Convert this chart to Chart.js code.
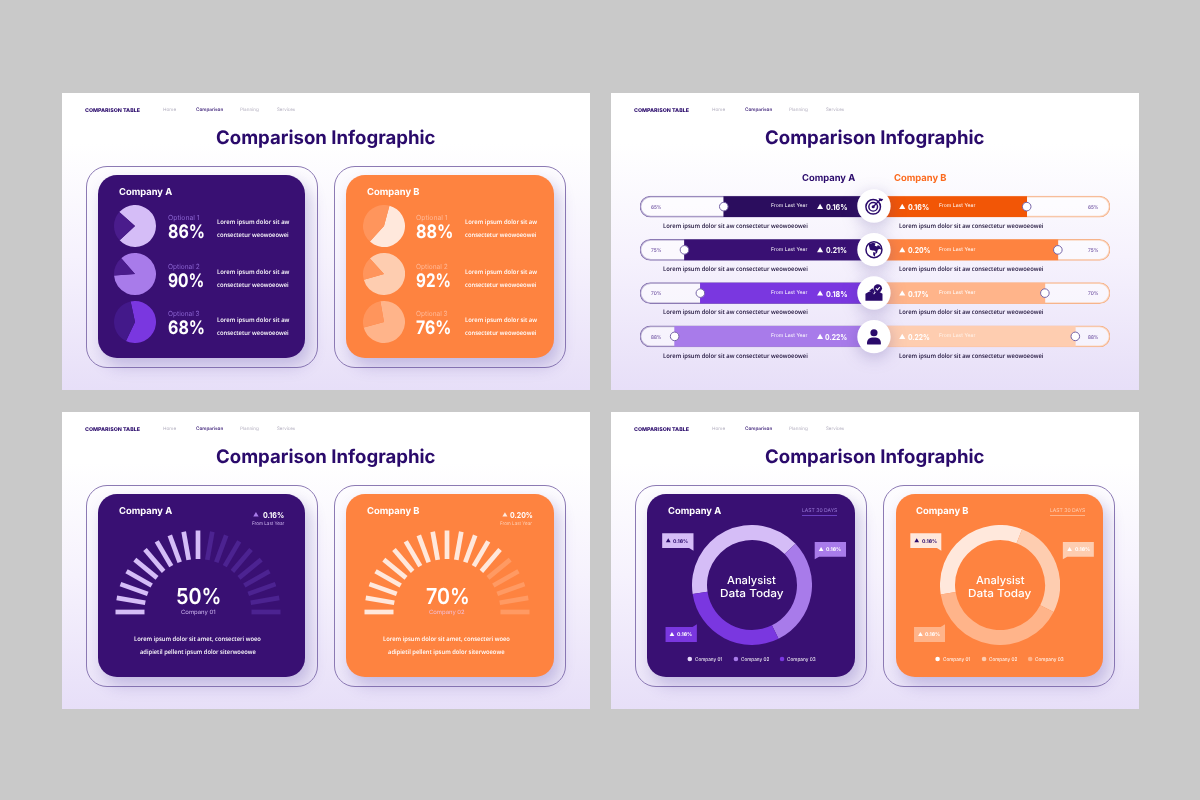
<!DOCTYPE html>
<html><head><meta charset="utf-8">
<script src="https://cdn.jsdelivr.net/npm/chart.js@4"></script>
<style>
html,body{margin:0;padding:0;background:#c9c9c9;width:1200px;height:800px;overflow:hidden}
#page{position:relative;width:1200px;height:800px;overflow:hidden}
.slide{position:absolute;background:linear-gradient(180deg,#fff 0%,#fff 17%,#f6f2fd 55%,#e7dff8 100%)}
.frame{position:absolute;box-sizing:border-box;border:1px solid #8c7ab4;border-radius:21px;background:rgba(255,255,255,.12)}
.card{position:absolute;border-radius:19px;box-shadow:5px 8px 16px rgba(80,60,160,.28)}
.bar{position:absolute}
canvas{position:absolute}
#deco{position:absolute;left:0;top:0}
.t{position:absolute;white-space:nowrap;transform-origin:0 50%;line-height:1;font-family:"Open Sans",sans-serif;text-rendering:geometricPrecision;filter:blur(.2px)}
</style></head><body><div id="page"></div>
<script>
// ---- values ----
const pieLabelsA = ["86%","90%","68%"];
const pieLabelsB = ["88%","92%","76%"];
const pieFilledA = [76.5,85.3,60.4];
const pieFilledB = [57.5,82.2,73.6];
const pieStartA = [-48.5,-41,-12];
const pieStartB = [15,-42,-10];
const barLabels = ["65%","75%","70%","88%"];
const barLengthA = [64.2,81,74.2,85.2];
const barLengthB = [64.7,77.9,72.4,85.3];
const barTrack = [100,100,100,100];
const changeA = ["0.16%","0.21%","0.18%","0.22%"];
const changeB = ["0.16%","0.20%","0.17%","0.22%"];
const gaugeSpokesA = [1,1,1,1,1,1,1,1,1,1,0,0,0,0,0,0,0,0,0];
const gaugeSpokesB = [1,1,1,1,1,1,1,1,1,1,1,1,1,1,0,0,0,0,0];
const donutLabels = ["Company 01","Company 02","Company 03"];
const donutA = [40.3,29.8,29.9];
const donutB = [33.5,26.4,40.1];
const donutStart = [261.4,261];
// ---- layout ----
const S = [[62,93],[611,93],[62,412],[611,412]];
const KX=2.97,KY=3;
const PURPLE="#391073",ORANGE="#fe8340",INK="#2a0a6b";
const PA=["#d5bdf7","#a87bea","#7a37e0"],PB=["#ffe8dc","#fecdb0","#ffb48a"];
const page=document.getElementById('page');
function el(cls,x,y,w,h,bg){const d=document.createElement('div');d.className=cls;d.style.cssText=`left:${x}px;top:${y}px;width:${w}px;height:${h}px;`+(bg?`background:${bg};`:'');page.appendChild(d);return d;}
function box(o,cls,x0,x1,y0,y1,bg){return el(cls,o[0]+x0/KX,o[1]+y0/KY,(x1-x0)/KX,(y1-y0)/KY,bg);}
const texts=[];
function T(o,x0,x1,y,s,size,weight,color,font){texts.push({o,x0,x1,y,s,size,weight,color,font});}
let deco='';
function tri(o,x0,x1,y,color){const a=o[0]+x0/KX,b=o[0]+x1/KX,m=(a+b)/2,c=o[1]+y/KY;const h=(x1-x0)/KX*.42;deco+=`<polygon points="${a},${c+h} ${b},${c+h} ${m},${c-h}" fill="${color}"/>`;}
function poly(o,pts,color){deco+=`<polygon points="${pts.map(p=>(o[0]+p[0]/KX)+','+(o[1]+p[1]/KY)).join(' ')}" fill="${color}"/>`;}
function dot(o,x,y,r,color){deco+=`<circle cx="${o[0]+x/KX}" cy="${o[1]+y/KY}" r="${r}" fill="${color}"/>`;}
function cv(x,y,w,h){const c=document.createElement('canvas');c.width=w;c.height=h;c.style.cssText=`left:${x}px;top:${y}px;width:${w}px;height:${h}px`;page.appendChild(c);return c;}
const base={responsive:false,animation:false,devicePixelRatio:1,plugins:{legend:{display:false},tooltip:{enabled:false}}};
const H='Inter,sans-serif';

S.forEach(o=>{ el('slide',o[0],o[1],528,297); });
function chrome(o){
  T(o,68,231,54,'COMPARISON TABLE',5.2,800,INK,H);
  T(o,300,339,50,'Home',4.6,400,'#b4b0c0',H);
  T(o,399,480,50,'Comparison',4.6,500,INK,H);
  T(o,529,585,50,'Planning',4.6,400,'#b4b0c0',H);
  T(o,640,694,50,'Services',4.6,400,'#b4b0c0',H);
  T(o,456,1108,131,'Comparison Infographic',18.8,700,INK,H);
}
S.forEach(chrome);
function cards(o,dx){
  box(o,'frame',70+dx,759+dx,220,824);
  box(o,'frame',808+dx,1497+dx,220,824);
  box(o,'card',107,723+dx,247,794,PURPLE);
  box(o,'card',844+dx,1460+dx,247,794,ORANGE);
}
cards(S[0],0);cards(S[2],0);cards(S[3],1);
[S[0],S[2],S[3]].forEach((o,i)=>{const d=i==2?1:0;
  T(o,168+d,326+d,297,'Company A',9.6,700,'#fff',H);
  T(o,905+d,1061+d,297,'Company B',9.6,700,'#fff',H);
});

// ---- slide 1: pies ----
const rowsY=[400,543,687];
function pie(o,cx,cy,filled,start,lit,dark){
  const c=cv(o[0]+cx/KX-21,o[1]+cy/KY-21,42,42);
  new Chart(c,{type:'pie',data:{labels:['value','rest'],datasets:[{data:[filled,100-filled],backgroundColor:[lit,dark],borderWidth:0}]},
    options:{...base,rotation:start,layout:{padding:0}}});
}
const o1=S[0];
const optY=[370,516,658],pctY=[415,560,703],l1Y=[386,536,681],l2Y=[425,575,721];
const wA=[[314,424],[315,423],[314,424]],wB=[[1051,1162],[1052,1156],[1051,1156]];
[0,1,2].forEach(i=>{
  pie(o1,218,rowsY[i],pieFilledA[i],pieStartA[i],PA[i],i==2?'#43198a':'#4a1c8c');
  pie(o1,956,rowsY[i],pieFilledB[i],pieStartB[i],PB[i],'#ff955c');
  T(o1,314,408,optY[i],'Optional '+(i+1),7,400,'#8a63d0',H);
  T(o1,1051,1145,optY[i],'Optional '+(i+1),7,400,'#ffb896',H);
  T(o1,wA[i][0],wA[i][1],pctY[i],pieLabelsA[i],18.5,700,'#fff',H);
  T(o1,wB[i][0],wB[i][1],pctY[i],pieLabelsB[i],18.5,700,'#fff',H);
  [[459,674,1197,1411,l1Y[i],'Lorem ipsum dolor sit aw'],[459,672,1197,1409,l2Y[i],'consectetur weowoeowei']].forEach(r=>{
    T(o1,r[0],r[1],r[4],r[5],6.2,600,'#fff');T(o1,r[2],r[3],r[4],r[5],6.2,600,'#fff');
  });
});

// ---- slide 2: mirrored bars ----
const handlePlugin={id:'handle',afterDatasetsDraw(ch){const c=ch.ctx;ch.getDatasetMeta(ch.data.datasets.findIndex(d=>d.label==='value')).data.forEach(b=>{
  c.beginPath();c.arc(b.x,b.y,4.3,0,Math.PI*2);c.fillStyle='#fff';c.fill();c.lineWidth=1;c.strokeStyle='#7563a6';c.stroke();});}};
function bars(x,w,vals,colors,rev,stroke,padL,padR){
  const c=cv(x,185,w,173);
  new Chart(c,{type:'bar',plugins:[handlePlugin],data:{labels:barLabels,datasets:[
    {label:'value',data:vals,backgroundColor:colors,barThickness:20,grouped:false,order:1,borderWidth:0},
    {label:'track',data:barTrack,backgroundColor:'rgba(255,255,255,.5)',borderColor:stroke,borderWidth:1,borderRadius:11,borderSkipped:false,barThickness:21,grouped:false,order:2}]},
    options:{...base,indexAxis:'y',layout:{padding:{left:padL,right:padR}},scales:{x:{display:false,min:0,max:100,reverse:rev},y:{display:false}}}});
}
bars(638,236,barLengthA,['#2b0d5e','#391073','#7a37e0','#a87bea'],true,'#8c7ab4',2,0);
bars(874,238,barLengthB,['#f25606','#fe8340','#ffb48a','#fecdb0'],false,'#f6b48c',0,2);
const o2=S[1];
T(o2,568,726,256,'Company A',9.6,700,INK,H);
T(o2,840,996,256,'Company B',9.6,700,'#fb6a1e',H);
const rowY=[340,470,600,730];
const chgLeft=[[638,702],[640,702],[638,702],[636,702]],chgRight=[[882,945],[882,949],[882,943],[882,947]];
rowY.forEach((y,i)=>{
  T(o2,118,149,y+1,barLabels[i],5,500,'#6d50a0',H);
  T(o2,1418,1449,y+1,barLabels[i],5,500,'#6d50a0',H);
  T(o2,474,582,y,'From Last Year',5.2,400,'#fff',H);
  tri(o2,612,630,y,'#fff');
  T(o2,chgLeft[i][0],chgLeft[i][1],y-1,changeA[i],8,700,'#fff',H);
  tri(o2,856,874,y,'#fff');
  T(o2,chgRight[i][0],chgRight[i][1],y-1,changeB[i],8,700,'#fff',H);
  T(o2,975,1083,y,'From Last Year',5.2,400,i==3?'#fff4ec':'#fff',H);
  T(o2,155,585,y+58,'Lorem ipsum dolor sit aw consectetur weowoeowei',6.2,600,'#1c1038');
  T(o2,854,1283,y+58,'Lorem ipsum dolor sit aw consectetur weowoeowei',6.2,600,'#1c1038');
});
const iconY=[339,470,600,731];
const icons=[
 `<circle cx="11" cy="13" r="9.4" fill="none" stroke="${INK}" stroke-width="1.9"/><circle cx="11" cy="13" r="5.6" fill="none" stroke="${INK}" stroke-width="1.9"/><circle cx="11" cy="13" r="2" fill="${INK}"/><path d="M11 13L21 3" stroke="${INK}" stroke-width="1.5"/><path d="M18 2l1 3 3 1 2-3-3-.5z" fill="${INK}"/>`,
 `<circle cx="12" cy="12" r="10.3" fill="none" stroke="${INK}" stroke-width="1.9"/><path d="M5 5l6-2 3 1-1 3 3 1 1-2 3 2 2 4-3-1-2 1-1 4-2 2 0-4-2-1-2 0-3-1-1-3z" fill="${INK}"/><path d="M11 15l3 1-1 5-2-2z" fill="${INK}"/>`,
 `<path d="M1 13l5-3h3l3 4 3-4h3l5 3v9H1z" fill="${INK}"/><path d="M6 9l4-3 3 3-1 4z" fill="${INK}"/><circle cx="17" cy="6" r="5.4" fill="${INK}"/><path d="M14.5 6l2 2 3-3.5" fill="none" stroke="#fff" stroke-width="1.3"/>`,
 `<circle cx="12" cy="7" r="4.6" fill="${INK}"/><path d="M3 21c0-6 3-8 9-8s9 2 9 8c0 1-1 1-1 1H4s-1 0-1-1z" fill="${INK}"/>`];
let iconSvg='';
iconY.forEach((y,i)=>{const cx=o2[0]+781/KX,cy=o2[1]+y/KY;
  iconSvg+=`<circle cx="${cx}" cy="${cy}" r="16.7" fill="#fff" style="filter:drop-shadow(0 4px 8px rgba(70,50,140,.28))"/>`;
  iconSvg+=`<g transform="translate(${cx-9.3},${cy-9.3}) scale(.775)">${icons[i]}</g>`;
});

// ---- slide 3: gauges ----
function gauge(o,cx,cy,spokes,lit,dim){
  const c=cv(o[0]+cx/KX-90,o[1]+cy/KY-90,180,100);
  const ds=spokes.map((on,i)=>{const a=i*10*Math.PI/180,co=Math.cos(a),si=Math.sin(a);
    return {data:[{x:-53.5*co,y:53*si},{x:-82.5*co,y:81.5*si}],showLine:true,pointRadius:0,borderWidth:4.7,borderCapStyle:'butt',borderColor:on?lit:dim};});
  new Chart(c,{type:'scatter',data:{datasets:ds},options:{...base,layout:{padding:0},scales:{x:{display:false,min:-90,max:90},y:{display:false,min:-10,max:90}}}});
}
const o3=S[2];
gauge(o3,403.5,601,gaugeSpokesA,'#d5bdf7','#4c2391');
gauge(o3,1143,601,gaugeSpokesB,'#ffe8dc','#ff9a63');
tri(o3,568,584,307,'#a87bea');tri(o3,1308,1323,307,'#ffe8dc');
T(o3,597,660,307,'0.16%',8,700,'#fff',H);
T(o3,1331,1399,307,'0.20%',8,700,'#fff',H);
T(o3,563,659,333,'From Last Year',4.8,400,'#cdb6f0',H);
T(o3,1302,1397,333,'From Last Year',4.8,400,'#ffd2b8',H);
T(o3,340,475,552,'50%',22,600,'#fff',H);
T(o3,1080,1210,552,'70%',22,600,'#fff',H);
T(o3,352,455,600,'Company 01',5.8,400,'#cdb6f0',H);
T(o3,1089,1195,600,'Company 02',5.8,400,'#f3bfd8',H);
T(o3,215,592,680,'Lorem ipsum dolor sit amet, consecteri woeo',6.2,600,'#fff');
T(o3,232,576,719,'adipietil pellent ipsum dolor siterwoeowe',6.2,600,'#fff');
T(o3,953,1330,680,'Lorem ipsum dolor sit amet, consecteri woeo',6.2,600,'#fff');
T(o3,969,1315,719,'adipietil pellent ipsum dolor siterwoeowe',6.2,600,'#fff');

// ---- slide 4: doughnuts ----
const o4=S[3];
function donut(o,cx,cy,vals,start,colors){
  const c=cv(o[0]+cx/KX-60,o[1]+cy/KY-60,120,120);
  new Chart(c,{type:'doughnut',data:{labels:donutLabels,datasets:[{data:vals,backgroundColor:colors,borderWidth:0}]},options:{...base,rotation:start,cutout:'75%',layout:{padding:0}}});
}
donut(o4,418,520,donutA,donutStart[0],PA);
donut(o4,1155,520,donutB,donutStart[1],PB);
T(o4,566,671,293,'LAST 30 DAYS',5,400,'#9a7ad8',H);
T(o4,1304,1409,293,'LAST 30 DAYS',5,400,'#ffcfb4',H);
box(o4,'bar',567,671,310,312,'#6a3fc0');
box(o4,'bar',1305,1409,310,312,'#ffb48a');
T(o4,345,490,500,'Analysist',11,500,'#fff',H);
T(o4,323,512,540,'Data Today',11,500,'#fff',H);
T(o4,1083,1227,500,'Analysist',11,500,'#fff',H);
T(o4,1061,1249,540,'Data Today',11,500,'#fff',H);
poly(o4,[[152,364],[245,364],[245,416],[232,408],[152,408]],PA[0]);
poly(o4,[[605,390],[698,390],[698,434],[618,434],[605,442]],PA[1]);
poly(o4,[[162,645],[242,645],[255,637],[255,690],[162,690]],PA[2]);
poly(o4,[[889,364],[981,364],[981,416],[968,408],[889,408]],PB[0]);
poly(o4,[[1342,390],[1434,390],[1434,434],[1355,434],[1342,442]],PB[1]);
poly(o4,[[900,645],[979,645],[992,637],[992,690],[900,690]],PB[2]);
[[163,177,185,230,386,INK,INK],[617,631,639,684,412,'#fff','#fff'],[174,188,196,241,667,'#fff','#fff'],
 [901,915,923,968,386,INK,INK],[1355,1369,1377,1422,412,'#fff','#fff'],[912,926,934,979,667,'#fff','#fff']].forEach(r=>{
  tri(o4,r[0],r[1],r[4]-1,r[5]);T(o4,r[2],r[3],r[4],'0.16%',5,700,r[6],H);
});
[[234,249,330],[371,386,470],[508,523,608]].forEach((r,i)=>{dot(o4,r[0],741,2.3,['#e6d8fb',PA[1],PA[2]][i]);T(o4,r[1],r[2],741,donutLabels[i],5,400,'#fff',H);});
[[970,986,1067],[1108,1124,1208],[1245,1260,1345]].forEach((r,i)=>{dot(o4,r[0],741,2.3,['#fff',PB[1],PB[2]][i]);T(o4,r[1],r[2],741,donutLabels[i],5,400,'#fff',H);});

// ---- overlay shapes, then text ----
const svgNS='http://www.w3.org/2000/svg';
const holder=document.createElement('div');
holder.innerHTML=`<svg id="deco" xmlns="${svgNS}" width="1200" height="800">${iconSvg}${deco}</svg>`;
page.appendChild(holder.firstChild);
texts.forEach(t=>{
  const d=document.createElement('div');d.className='t';d.textContent=t.s;
  const dy=t.font?1:0;
  d.style.cssText=`left:${t.o[0]+t.x0/KX}px;top:${t.o[1]+t.y/KY+dy}px;font-size:${t.size}px;font-weight:${t.weight};color:${t.color};`+(t.font?`font-family:${t.font};`:'');
  page.appendChild(d);
  const k=((t.x1-t.x0)/KX)/d.getBoundingClientRect().width;
  d.style.transform=`translateY(-50%) scaleX(${k})`;
});
</script></body></html>
